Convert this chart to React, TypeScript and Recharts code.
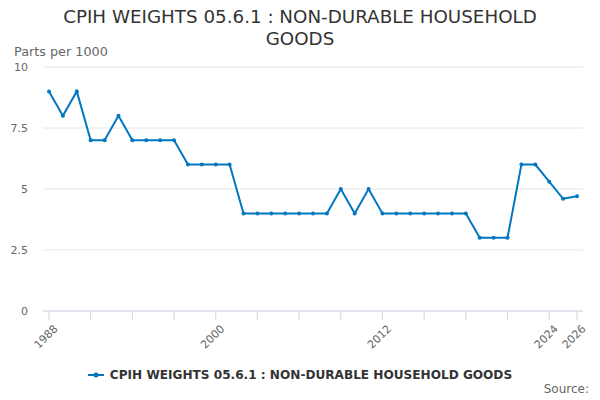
import { LineChart, Line, XAxis, YAxis, CartesianGrid, Legend } from "recharts"

const years = [
  1988, 1989, 1990, 1991, 1992, 1993, 1994, 1995, 1996, 1997, 1998, 1999, 2000,
  2001, 2002, 2003, 2004, 2005, 2006, 2007, 2008, 2009, 2010, 2011, 2012, 2013,
  2014, 2015, 2016, 2017, 2018, 2019, 2020, 2021, 2022, 2023, 2024, 2025, 2026,
]
const weights = [
  9, 8, 9, 7, 7, 8, 7, 7, 7, 7, 6, 6, 6, 6, 4, 4, 4, 4, 4, 4, 4, 5, 4, 5, 4, 4,
  4, 4, 4, 4, 4, 3, 3, 3, 6, 6, 5.3, 4.6, 4.7,
]
const xTicks = [1988, 1991, 1994, 1997, 2000, 2003, 2006, 2009, 2012, 2015, 2018, 2021, 2024, 2026]
const xLabels = [1988, 2000, 2012, 2024, 2026]
const yTicks = [0, 2.5, 5, 7.5, 10]

const seriesName = "CPIH WEIGHTS 05.6.1 : NON-DURABLE HOUSEHOLD GOODS"
const color = "#0077c0"
const font = "'DejaVu Sans', sans-serif"

const data = years.map((year, i) => ({ year, value: weights[i] }))

function XTick({ x, y, payload }: any) {
  if (!xLabels.includes(payload.value)) return null
  return (
    <text
      x={x + 4}
      y={y + 2}
      transform={`rotate(-45 ${x + 4} ${y + 2})`}
      textAnchor="end"
      fontSize={11}
      fill="#666"
      fontFamily={font}
      dy="0.7em"
    >
      {payload.value}
    </text>
  )
}

function LegendContent() {
  return (
    <div style={{ display: "flex", justifyContent: "center", alignItems: "center", fontFamily: font }}>
      <svg width={18} height={10} style={{ marginRight: 4 }}>
        <line x1={0} y1={5} x2={16} y2={5} stroke={color} strokeWidth={2} />
        <circle cx={8} cy={5} r={2.5} fill={color} />
      </svg>
      <span style={{ fontSize: 12.1, fontWeight: "bold", color: "#333" }}>{seriesName}</span>
    </div>
  )
}

export default function App() {
  return (
    <div style={{ position: "absolute", left: 0, top: 0, width: 600, height: 400, background: "#fff", fontFamily: font }}>
      <div
        style={{
          position: "absolute",
          top: 6,
          left: 0,
          width: 600,
          textAlign: "center",
          fontSize: 18.3,
          lineHeight: "22px",
          color: "#333",
        }}
      >
        CPIH WEIGHTS 05.6.1 : NON-DURABLE HOUSEHOLD
        <br />
        GOODS
      </div>
      <div style={{ position: "absolute", top: 44, left: 14, fontSize: 12.8, color: "#666" }}>Parts per 1000</div>
      <div style={{ position: "absolute", top: 382, right: 11, fontSize: 12, color: "#666" }}>Source:</div>
      <LineChart width={600} height={400} data={data} margin={{ top: 67, right: 17, bottom: 45, left: 0 }}>
        <CartesianGrid horizontal vertical={false} stroke="#e6e6e6" />
        <XAxis
          dataKey="year"
          type="number"
          domain={[1988, 2026]}
          ticks={xTicks}
          interval={0}
          padding={{ left: 6, right: 6 }}
          stroke="#ccd6eb"
          tickSize={9}
          tick={<XTick />}
        />
        <YAxis
          domain={[0, 10]}
          ticks={yTicks}
          width={43}
          axisLine={false}
          tickLine={false}
          tickSize={0}
          tickMargin={15}
          tick={{ fontSize: 11, fill: "#666", fontFamily: font }}
        />
        <Legend
          verticalAlign="bottom"
          content={<LegendContent />}
          wrapperStyle={{ bottom: 18, left: 0, width: 600 }}
        />
        <Line
          dataKey="value"
          name={seriesName}
          stroke={color}
          strokeWidth={2}
          dot={{ r: 2, fill: color, stroke: color, strokeWidth: 0 }}
          isAnimationActive={false}
        />
      </LineChart>
    </div>
  )
}
